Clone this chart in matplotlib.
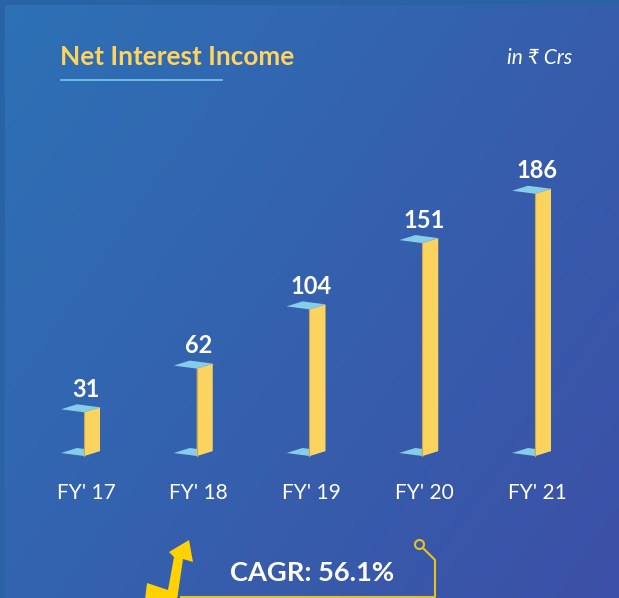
import numpy as np
import matplotlib.pyplot as plt
from matplotlib.patches import Polygon, Circle

years = ["FY' 17", "FY' 18", "FY' 19", "FY' 20", "FY' 21"]
income = [31, 62, 104, 151, 186]
title = "Net Interest Income"
unit = "in \u20b9 Crs"
cagr = "CAGR: 56.1%"

W, H = 619, 598
fig = plt.figure(figsize=(W / 100, H / 100), dpi=100)

# background gradient (pixel space)
bg = fig.add_axes([0, 0, 1, 1])
gx, gy = np.meshgrid(np.linspace(0, 1, 300), np.linspace(0, 1, 300))
t = (gx * 0.6 + gy * 0.4)[..., None]
c0 = np.array([45, 113, 181]) / 255
c1 = np.array([60, 80, 166]) / 255
bg.imshow(c0 * (1 - t) + c1 * t, extent=[0, W, H, 0], aspect='auto')
bg.set_xlim(0, W)
bg.set_ylim(H, 0)
bg.axis('off')
# darker frame edge at top / left
bg.plot([2, 2, W], [H, 2, 2], color='#2a62a6', lw=4, solid_capstyle='butt')

# title block
bg.text(60, 57, title, color='#ffd45c', fontsize=18.8, fontweight='bold',
        family=['Lato', 'DejaVu Sans'], va='center', ha='left')
bg.plot([61, 222], [80, 80], color='#7ec8e8', lw=1.2)
bg.text(572, 58, unit, color='white', fontsize=15, style='italic',
        family=['Lato', 'DejaVu Sans'], va='center', ha='right')

# decorations at the bottom
arrow = [(145, 600), (147, 583), (168, 590), (174, 557), (169, 552), (189, 540),
         (193, 562), (183, 559), (177, 600)]
bg.add_patch(Polygon(arrow, closed=True, color='#ffd200', lw=0))
bg.plot([181, 435, 435, 423], [597, 597, 560, 548], color='#e8c21c', lw=1.5)
bg.add_patch(Circle((419.5, 544.5), 4.5, fill=False, ec='#e8c21c', lw=1.5))
bg.text(312, 573, cagr, color='white', fontsize=19.6, fontweight='bold',
        family=['Lato', 'DejaVu Sans'], va='center', ha='center')

# data axes: category i -> pixel 86 + 112.75*i ; value v -> pixel 456 - 1.41*v
sx, sy = 112.75, 1.41
ax = fig.add_axes([0, 0, 1, 1])
ax.patch.set_alpha(0)
ax.set_xlim(-86 / sx, (W - 86) / sx)
ax.set_ylim((456 - H) / sy, 456 / sy)
ax.axis('off')

px = 1 / sx
py = 1 / sy
face_w = 16 * px
slant = 5 * py
dx, dy = -23 * px, 3 * py
off = -2 * px

for i, v in enumerate(income):
    x0 = i + off
    x1 = x0 + face_w
    # bottom face
    ax.fill([x0, x1, x1 + dx, x0 + dx], [0, slant, slant + dy, dy],
            color='#86cdea', lw=0, zorder=2)
    # front face
    ax.fill([x0, x1, x1, x0], [0, slant, v + slant, v],
            color='#fbd35f', lw=0, zorder=3)
    ax.plot([x0, x0], [0, v], color='#c9a94c', lw=0.8, zorder=4)
    # top face
    ax.fill([x0, x1, x1 + dx, x0 + dx], [v, v + slant, v + slant + dy, v + dy],
            color='#86cdea', lw=0, zorder=4)
    ax.annotate(str(v), (i, v), xytext=(0, 11), textcoords='offset points',
                ha='center', va='baseline', color='white', fontsize=17,
                fontweight='bold', family=['Lato', 'DejaVu Sans'])
    ax.text(i, (456 - 493) / sy, years[i], ha='center', va='center',
            color='white', fontsize=15, family=['Lato', 'DejaVu Sans'])

fig.savefig('out.png', dpi=100)
